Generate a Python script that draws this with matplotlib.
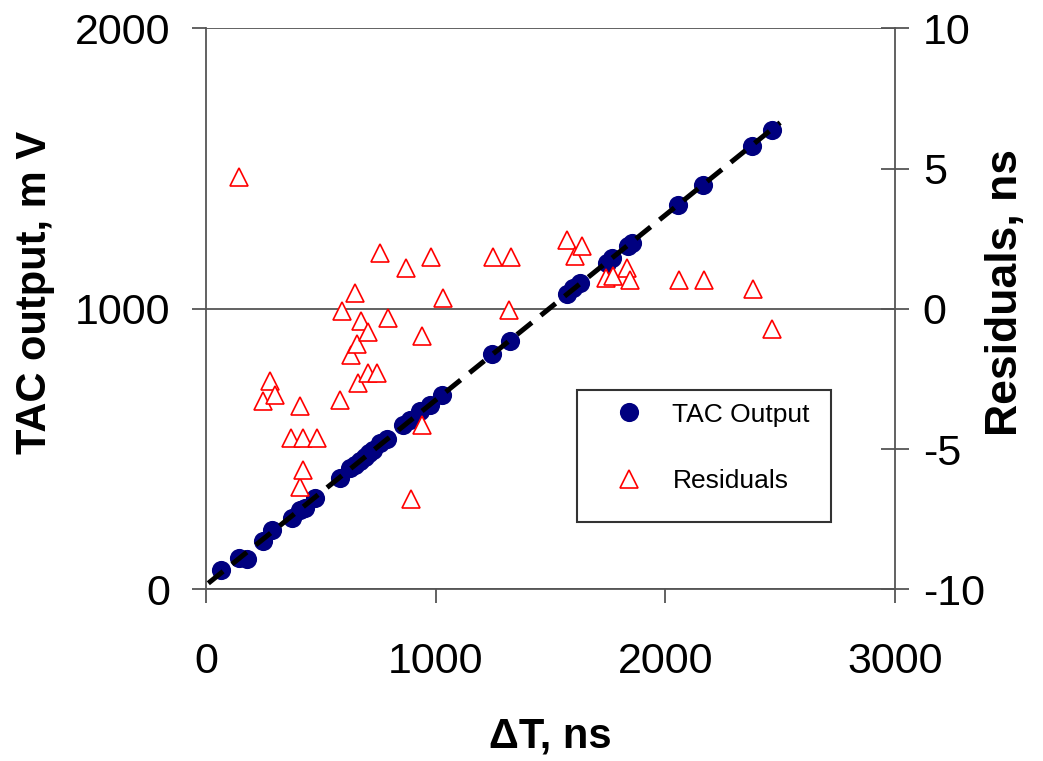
import numpy as np
import matplotlib.pyplot as plt
from matplotlib.patches import Rectangle
from matplotlib.lines import Line2D

plt.rcParams['font.family'] = ['Liberation Sans', 'DejaVu Sans']
plt.rcParams['axes.unicode_minus'] = False

# TAC calibration: time difference (ns) vs TAC output (mV)
dt_tac = [64, 145, 177, 249, 286, 373, 409, 430, 475, 583, 627, 649, 670, 692, 710,
          728, 758, 787, 859, 888, 932, 975, 1026, 1244, 1323, 1570, 1599, 1628,
          1744, 1766, 1839, 1855, 2056, 2165, 2378, 2463]
tac_mv = [70, 111, 108, 174, 213, 254, 284, 292, 326, 397, 433, 445, 459, 474, 486,
          498, 522, 536, 588, 605, 635, 659, 695, 838, 885, 1052, 1076, 1094,
          1165, 1183, 1224, 1235, 1369, 1442, 1581, 1638]

# residuals of the linear fit (ns)
dt_res = [145, 247, 279, 300, 369, 409, 409, 421, 424, 482, 583, 591, 630, 649, 659,
          660, 675, 707, 707, 743, 757, 791, 869, 894, 939, 939, 978, 1030, 1251,
          1321, 1326, 1573, 1606, 1638, 1741, 1773, 1831, 1846, 2059, 2168, 2383, 2465]
residuals_ns = [4.70, -3.29, -2.58, -3.05, -4.60, -3.45, -6.33, -5.73, -4.60, -4.60,
                -3.23, -0.08, -1.63, 0.58, -1.24, -2.64, -0.44, -0.83, -2.28, -2.28,
                2.01, -0.31, 1.45, -6.76, -0.95, -4.13, 1.86, 0.40, 1.86, -0.02, 1.86,
                2.46, 1.89, 2.24, 1.09, 1.17, 1.47, 1.05, 1.05, 1.05, 0.70, -0.71]

slope, intercept = np.polyfit(dt_tac, tac_mv, 1)
fit_x = np.array([10, 2500])

fig = plt.figure(figsize=(10.43, 7.61), dpi=100)
ax = fig.add_axes([0.1975, 0.2254, 0.6606, 0.7372])

ax.plot(dt_tac, tac_mv, 'o', color='#000080', markersize=13.8, markeredgewidth=0, zorder=2)
ax.plot(fit_x, slope * fit_x + intercept, color='black', lw=3.6,
        linestyle=(0, (3.8, 2.3)), zorder=3)

ax.set_xlim(0, 3000)
ax.set_ylim(0, 2000)
ax.set_xticks([0, 1000, 2000, 3000])
ax.set_yticks([0, 1000, 2000])
ax.yaxis.grid(True, color='#555555', lw=1.3)
ax.set_axisbelow(True)

gray = '#555555'
for s in ['left', 'bottom']:
    ax.spines[s].set_color(gray)
    ax.spines[s].set_linewidth(1.3)
ax.spines['top'].set_visible(False)
ax.spines['right'].set_visible(False)
ax.tick_params(axis='both', direction='out', length=10, width=1.3, color=gray,
               labelsize=31)
ax.tick_params(axis='x', pad=28)
ax.tick_params(axis='y', pad=16)

ax.set_xlabel('ΔT, ns', fontsize=30, fontweight='bold')
ax.set_ylabel('TAC output, m V', fontsize=30, fontweight='bold')
ax.xaxis.set_label_coords(0.5, -0.226)
ax.yaxis.set_label_coords(-0.219, 0.53)

ax2 = ax.twinx()
ax2.plot(dt_res, residuals_ns, '^', markerfacecolor='white', markeredgecolor='red',
         markersize=12.3, markeredgewidth=1.2, linestyle='none')
ax2.set_ylim(-10, 10)
ax2.set_yticks([-10, -5, 0, 5, 10])
for s in ['left', 'bottom', 'top']:
    ax2.spines[s].set_visible(False)
ax2.spines['right'].set_color(gray)
ax2.spines['right'].set_linewidth(1.3)
ax2.tick_params(axis='y', direction='inout', length=20, width=1.3, color=gray,
                labelsize=31, pad=10)
ax2.set_ylabel('Residuals, ns', fontsize=32, fontweight='bold')
ax2.yaxis.set_label_coords(1.13, 0.53)

# legend box
ax2.add_patch(Rectangle((0.538, 0.120), 0.369, 0.236, transform=ax2.transAxes,
                        facecolor='white', edgecolor='#333333', lw=1.5, zorder=5))
handles = [
    Line2D([], [], marker='o', color='#000080', markersize=13.8, markeredgewidth=0,
           linestyle='none'),
    Line2D([], [], marker='^', markerfacecolor='white', markeredgecolor='red',
           markersize=12.3, markeredgewidth=1.2, linestyle='none'),
]
leg = ax2.legend(handles, ['TAC Output', 'Residuals'], loc='upper left',
                 bbox_to_anchor=(0.585, 0.333), frameon=False, fontsize=19,
                 handlelength=1.5, handletextpad=0.9, labelspacing=1.6,
                 borderpad=0, borderaxespad=0)
leg.set_zorder(6)

fig.savefig('out.png', dpi=100)
